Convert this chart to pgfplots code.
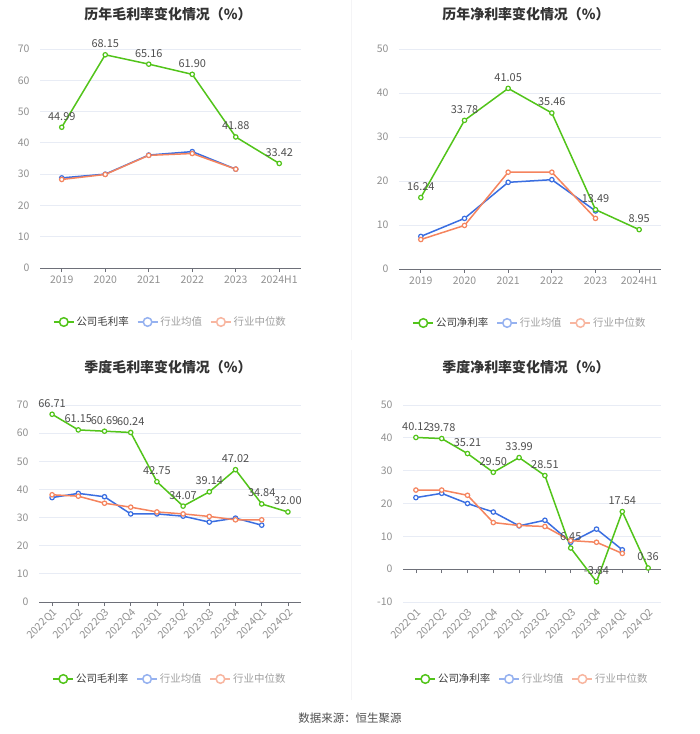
\documentclass[border=0pt]{standalone}
\usepackage{fontspec}
\setmainfont{Noto Sans CJK SC}
\usepackage{pgfplots}
\pgfplotsset{compat=1.18}
\definecolor{cg}{RGB}{82,196,26}
\definecolor{cb}{RGB}{58,110,225}
\definecolor{co}{RGB}{245,132,94}
\definecolor{cbl}{RGB}{150,178,240}
\definecolor{col}{RGB}{248,182,160}
\definecolor{gridc}{RGB}{232,236,245}
\definecolor{axisc}{RGB}{110,112,121}
\definecolor{tickc}{RGB}{145,145,145}
\definecolor{labc}{RGB}{80,80,80}
\definecolor{legc}{RGB}{60,60,60}
\definecolor{legg}{RGB}{160,160,160}
\definecolor{titc}{RGB}{51,51,51}
\pgfplotsset{
 panel/.style={
   scale only axis, anchor=north west, clip=false,
   axis x line=bottom, axis y line=left,
   axis line style={-},
   x axis line style={draw=axisc, line width=0.8bp},
   y axis line style={draw=none},
   ytick style={draw=none},
   xtick style={draw=axisc, line width=0.8bp},
   tick align=outside,
   major tick length=4bp,
   ymajorgrids, grid style={draw=gridc, line width=0.8bp},
   tick label style={font=\fontsize{10.5}{10.5}\selectfont, text=tickc},
   /pgf/number format/assume math mode=true,
   yticklabel style={xshift=-3bp},
   legend columns=3,
   legend style={draw=none, fill=none, at={(0.5,0)}, anchor=center,
     font=\fontsize{10.5}{10.5}\selectfont,
     /tikz/every even column/.append style={column sep=6bp}},
   legend image code/.code={\draw[##1] (0bp,0bp) -- (20bp,0bp); \draw[##1, fill=white] (10bp,0bp) circle (4.3bp);},
   every node near coord/.append style={font=\fontsize{11}{11}\selectfont, text=labc, anchor=south, yshift=3bp},
 },
 comp/.style={cg, line width=1.5bp, mark=*, mark size=2.2bp, mark options={fill=white, draw=cg, line width=1.2bp},
   nodes near coords, point meta=explicit symbolic, forget plot},
 avg/.style={cb, line width=1.5bp, mark=*, mark size=2.2bp, mark options={fill=white, draw=cb, line width=1.2bp}, forget plot},
 med/.style={co, line width=1.5bp, mark=*, mark size=2.2bp, mark options={fill=white, draw=co, line width=1.2bp}, forget plot},
}
\begin{document}
\begin{tikzpicture}
\path[fill=white, use as bounding box] (0,0) rectangle (700bp,-734bp);
\draw[draw={rgb,255:red,244;green,244;blue,246}, line width=0.8bp] (351bp,0bp) -- (351bp,-340bp);
\draw[draw={rgb,255:red,244;green,244;blue,246}, line width=0.8bp] (351bp,-350bp) -- (351bp,-700bp);

\node[font=\fontsize{14}{14}\selectfont\bfseries, text=titc] at (168bp,-14bp) {历年毛利率变化情况（\%）};
\node[font=\fontsize{14}{14}\selectfont\bfseries, text=titc] at (526bp,-14bp) {历年净利率变化情况（\%）};
\node[font=\fontsize{14}{14}\selectfont\bfseries, text=titc] at (168bp,-367bp) {季度毛利率变化情况（\%）};
\node[font=\fontsize{14}{14}\selectfont\bfseries, text=titc] at (526bp,-367bp) {季度净利率变化情况（\%）};
\node[font=\fontsize{11.5}{11.5}\selectfont, text=labc] at (350bp,-718bp) {数据来源：恒生聚源};

% ---------- top left
\begin{axis}[panel, at={(40bp,-49bp)}, width=261bp, height=219bp,
  xmin=-0.5, xmax=5.5, ymin=0, ymax=70, ytick={0,10,...,70},
  xtick={0,...,5}, xticklabels={2019,2020,2021,2022,2023,2024H1},
  legend style={yshift=-54bp}]
\addplot[avg] table[x=x,y=y] {
x y
0 28.8
1 30.0
2 36.1
3 37.2
4 31.6
};
\addplot[med] table[x=x,y=y] {
x y
0 28.3
1 29.9
2 36.0
3 36.6
4 31.6
};
\addplot[comp] table[x=x,y=y,meta=l] {
x y l
0 44.99 44.99
1 68.15 68.15
2 65.16 65.16
3 61.90 61.90
4 41.88 41.88
5 33.42 33.42
};
\addlegendimage{cg, line width=1.5bp}
\addlegendentry{\textcolor{legc}{公司毛利率}}
\addlegendimage{cbl, line width=1.5bp}
\addlegendentry{\textcolor{legg}{行业均值}}
\addlegendimage{col, line width=1.5bp}
\addlegendentry{\textcolor{legg}{行业中位数}}
\end{axis}

% ---------- top right
\begin{axis}[panel, at={(399bp,-49bp)}, width=262bp, height=220bp,
  xmin=-0.5, xmax=5.5, ymin=0, ymax=50, ytick={0,10,...,50},
  xtick={0,...,5}, xticklabels={2019,2020,2021,2022,2023,2024H1},
  legend style={yshift=-54bp}]
\addplot[avg] table[x=x,y=y] {
x y
0 7.4
1 11.5
2 19.7
3 20.3
4 13.2
};
\addplot[med] table[x=x,y=y] {
x y
0 6.7
1 9.9
2 22.0
3 22.0
4 11.5
};
\addplot[comp] table[x=x,y=y,meta=l] {
x y l
0 16.24 16.24
1 33.78 33.78
2 41.05 41.05
3 35.46 35.46
4 13.49 13.49
5 8.95 8.95
};
\addlegendimage{cg, line width=1.5bp}
\addlegendentry{\textcolor{legc}{公司净利率}}
\addlegendimage{cbl, line width=1.5bp}
\addlegendentry{\textcolor{legg}{行业均值}}
\addlegendimage{col, line width=1.5bp}
\addlegendentry{\textcolor{legg}{行业中位数}}
\end{axis}

% ---------- bottom left
\begin{axis}[panel, at={(39bp,-405bp)}, width=262bp, height=197bp,
  xmin=-0.5, xmax=9.5, ymin=0, ymax=70, ytick={0,10,...,70},
  xtick={0,...,9}, xticklabels={2022Q1,2022Q2,2022Q3,2022Q4,2023Q1,2023Q2,2023Q3,2023Q4,2024Q1,2024Q2},
  xticklabel style={rotate=45, anchor=north east, inner sep=1bp},
  legend style={yshift=-77bp}]
\addplot[avg] table[x=x,y=y] {
x y
0 37.1
1 38.6
2 37.4
3 31.3
4 31.3
5 30.5
6 28.4
7 29.8
8 27.3
};
\addplot[med] table[x=x,y=y] {
x y
0 38.1
1 37.6
2 35.1
3 33.7
4 32.0
5 31.3
6 30.4
7 29.2
8 29.2
};
\addplot[comp] table[x=x,y=y,meta=l] {
x y l
0 66.71 66.71
1 61.15 61.15
2 60.69 60.69
3 60.24 60.24
4 42.75 42.75
5 34.07 34.07
6 39.14 39.14
7 47.02 47.02
8 34.84 34.84
9 32.00 32.00
};
\addlegendimage{cg, line width=1.5bp}
\addlegendentry{\textcolor{legc}{公司毛利率}}
\addlegendimage{cbl, line width=1.5bp}
\addlegendentry{\textcolor{legg}{行业均值}}
\addlegendimage{col, line width=1.5bp}
\addlegendentry{\textcolor{legg}{行业中位数}}
\end{axis}

% ---------- bottom right
\begin{axis}[panel, at={(403bp,-405bp)}, width=258bp, height=197bp,
  axis x line=middle, axis line style={-}, tick align=outside,
  xmin=-0.5, xmax=9.5, ymin=-10, ymax=50, ytick={-10,0,...,50},
  xtick={0,...,9}, xticklabels={2022Q1,2022Q2,2022Q3,2022Q4,2023Q1,2023Q2,2023Q3,2023Q4,2024Q1,2024Q2},
  xticklabel style={yshift=-33bp, rotate=45, anchor=north east, inner sep=1bp},
  legend style={yshift=-77bp}]
\addplot[avg] table[x=x,y=y] {
x y
0 21.8
1 23.1
2 20.0
3 17.4
4 13.2
5 14.9
6 8.2
7 12.2
8 5.9
};
\addplot[med] table[x=x,y=y] {
x y
0 24.1
1 24.1
2 22.5
3 14.2
4 13.3
5 13.0
6 8.7
7 8.2
8 4.8
};
\addplot[comp] table[x=x,y=y,meta=l] {
x y l
0 40.12 40.12
1 39.78 39.78
2 35.21 35.21
3 29.50 29.50
4 33.99 33.99
5 28.51 28.51
6 6.45 6.45
7 -3.84 -3.84
8 17.54 17.54
9 0.36 0.36
};
\addlegendimage{cg, line width=1.5bp}
\addlegendentry{\textcolor{legc}{公司净利率}}
\addlegendimage{cbl, line width=1.5bp}
\addlegendentry{\textcolor{legg}{行业均值}}
\addlegendimage{col, line width=1.5bp}
\addlegendentry{\textcolor{legg}{行业中位数}}
\end{axis}
\end{tikzpicture}
\end{document}
